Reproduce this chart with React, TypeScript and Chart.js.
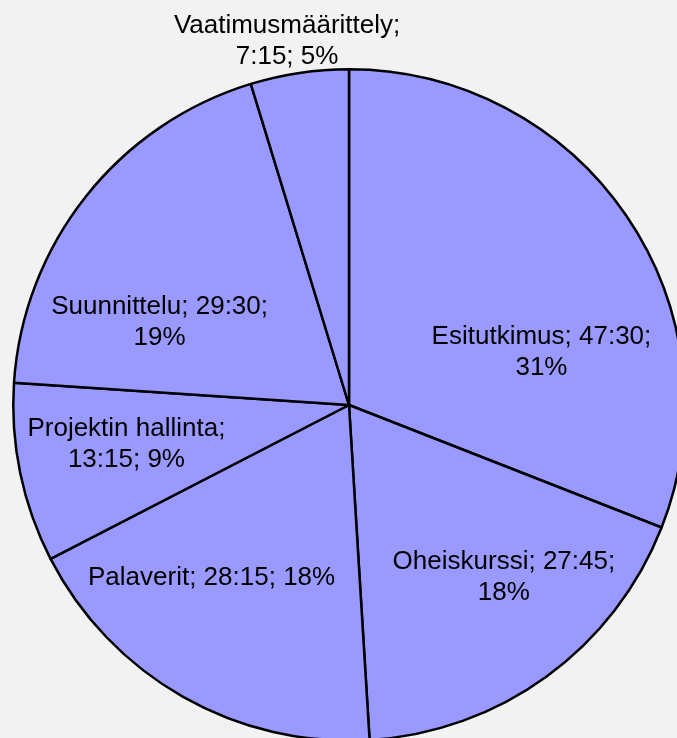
import React, { useEffect, useRef } from "react";
import { Chart, registerables } from "chart.js";

Chart.register(...registerables);

const categories = [
  "Esitutkimus",
  "Oheiskurssi",
  "Palaverit",
  "Projektin hallinta",
  "Suunnittelu",
  "Vaatimusmäärittely",
];
// durations in minutes (47:30, 27:45, 28:15, 13:15, 29:30, 7:15)
const minutes = [2850, 1665, 1695, 795, 1770, 435];

const fmtTime = (m: number) => {
  const h = Math.floor(m / 60);
  const mm = m % 60;
  return `${h}:${mm < 10 ? "0" : ""}${mm}`;
};

const FONT = '26px "Liberation Sans", Arial, sans-serif';

const labelPlugin = {
  id: "sliceLabels",
  afterDatasetsDraw(chart: any, _args: any, opts: any) {
    const ctx = chart.ctx as CanvasRenderingContext2D;
    const meta = chart.getDatasetMeta(0);
    const data = chart.data.datasets[0].data as number[];
    const total = data.reduce((a, b) => a + b, 0);
    ctx.save();
    ctx.font = FONT;
    ctx.fillStyle = "#000";
    ctx.textAlign = "center";
    ctx.textBaseline = "alphabetic";
    meta.data.forEach((arc: any, i: number) => {
      const p = arc.getProps(["x", "y", "startAngle", "endAngle", "outerRadius"], true);
      const mid = (p.startAngle + p.endAngle) / 2 + (opts.angleOffsets[i] * Math.PI) / 180;
      const r = p.outerRadius * opts.radii[i];
      const cx = p.x + Math.cos(mid) * r;
      const cy = p.y + Math.sin(mid) * r;
      const pct = Math.round((data[i] / total) * 100);
      const text = `${chart.data.labels[i]}; ${fmtTime(data[i])}; ${pct}%`;
      const words = text.split(" ");
      const lines: string[] = [];
      let cur = "";
      for (const w of words) {
        const t = cur ? cur + " " + w : w;
        if (cur && ctx.measureText(t).width > opts.maxWidth) {
          lines.push(cur);
          cur = w;
        } else cur = t;
      }
      if (cur) lines.push(cur);
      const lh = 31;
      lines.forEach((ln, k) => {
        const capCenter = cy + (k - (lines.length - 1) / 2) * lh;
        ctx.fillText(ln, cx, capCenter + 9.3);
      });
    });
    ctx.restore();
  },
};

export default function App() {
  const ref = useRef<HTMLCanvasElement>(null);
  useEffect(() => {
    if (!ref.current) return;
    const chart = new Chart(ref.current, {
      type: "pie",
      data: {
        labels: categories,
        datasets: [
          {
            data: minutes,
            backgroundColor: "#9999ff",
            borderColor: "#000000",
            borderWidth: 2.5,
          },
        ],
      },
      options: {
        responsive: false,
        animation: false,
        devicePixelRatio: 1,
        layout: { padding: { left: 12, right: 12, top: 68, bottom: 68 } },
        plugins: {
          legend: { display: false },
          tooltip: { enabled: false },
          sliceLabels: {
            angleOffsets: [18.4, -6.2, 9.2, 2.3, -14.3, -1.1],
            radii: [0.596, 0.686, 0.653, 0.672, 0.618, 1.106],
            maxWidth: 262,
          },
        } as any,
      },
      plugins: [labelPlugin],
    });
    return () => chart.destroy();
  }, []);
  return (
    <div
      style={{
        position: "fixed",
        left: 0,
        top: 0,
        width: 677,
        height: 738,
        overflow: "hidden",
        background: "#f2f2f2",
      }}
    >
      <canvas
        ref={ref}
        width={698}
        height={810}
        style={{ position: "absolute", left: 0, top: 0, width: 698, height: 810 }}
      />
    </div>
  );
}
